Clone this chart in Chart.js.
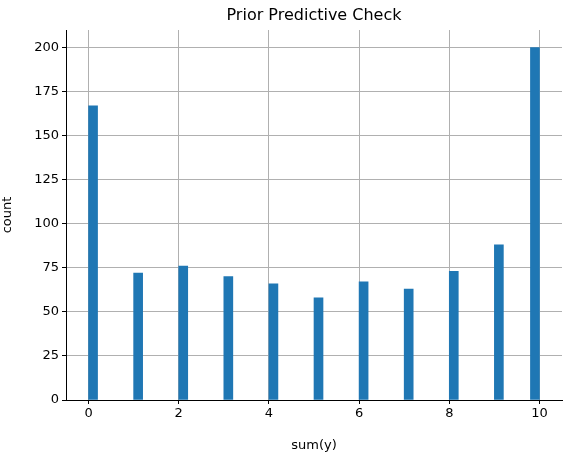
<!DOCTYPE html>
<html>
<head>
<meta charset="utf-8">
<script src="https://cdn.jsdelivr.net/npm/chart.js@4"></script>
<style>
  html, body { margin: 0; padding: 0; background: #fff; }
  #wrap { width: 571px; height: 453px; }
</style>
</head>
<body>
<div id="wrap"><canvas id="hist"></canvas></div>
<script>
// bin left edges (width 0.2), last bin is [9.8, 10]
const binStarts = [0, 1, 2, 3, 4, 5, 6, 7, 8, 9, 9.8];
const counts = [167, 72, 76, 70, 66, 58, 67, 63, 73, 88, 200];
const xTicks = [0, 2, 4, 6, 8, 10];
const yTicks = [0, 25, 50, 75, 100, 125, 150, 175, 200];
const binWidth = 0.2;

const points = binStarts.map((s, k) => ({ x: s + binWidth / 2, y: counts[k] }));

const titlePlugin = {
  id: "mplTitle",
  afterDraw(chart) {
    const { ctx, chartArea } = chart;
    ctx.save();
    ctx.font = "16px 'DejaVu Sans'";
    ctx.fillStyle = "#000";
    ctx.textAlign = "center";
    ctx.textBaseline = "bottom";
    ctx.fillText("Prior Predictive Check", (chartArea.left + chartArea.right) / 2, chartArea.top - 6);
    ctx.restore();
  }
};

const tickFont = { family: "DejaVu Sans", size: 13 };

const ctx = document.getElementById("hist").getContext("2d");
new Chart(ctx, {
  type: "bar",
  data: {
    datasets: [{
      data: points,
      backgroundColor: "#1f77b4",
      barThickness: 9,
      borderWidth: 0
    }]
  },
  options: {
    responsive: true,
    maintainAspectRatio: false,
    animation: false,
    layout: { padding: { top: 30, right: 9, left: 0, bottom: 0 } },
    plugins: { legend: { display: false }, tooltip: { enabled: false } },
    scales: {
      x: {
        type: "linear",
        offset: false,
        min: -0.5,
        max: 10.5,
        afterBuildTicks(axis) { axis.ticks = xTicks.map(v => ({ value: v })); },
        afterFit(axis) { axis.height = 53; },
        grid: { offset: false, color: "#b0b0b0", tickColor: "#000", tickLength: 4 },
        border: { color: "#000" },
        ticks: { color: "#000", font: tickFont, padding: 2 },
        title: { display: true, text: "sum(y)", color: "#000", font: tickFont, padding: 0 }
      },
      y: {
        min: 0,
        max: 210,
        afterBuildTicks(axis) { axis.ticks = yTicks.map(v => ({ value: v })); },
        ticks: { color: "#000", font: tickFont, padding: 3 },
        afterFit(axis) { axis.width = 66; },
        grid: { color: "#b0b0b0", tickColor: "#000", tickLength: 4 },
        border: { color: "#000" },
        title: { display: true, text: "count", color: "#000", font: tickFont, padding: 0 }
      }
    }
  },
  plugins: [titlePlugin]
});
</script>
</body>
</html>
